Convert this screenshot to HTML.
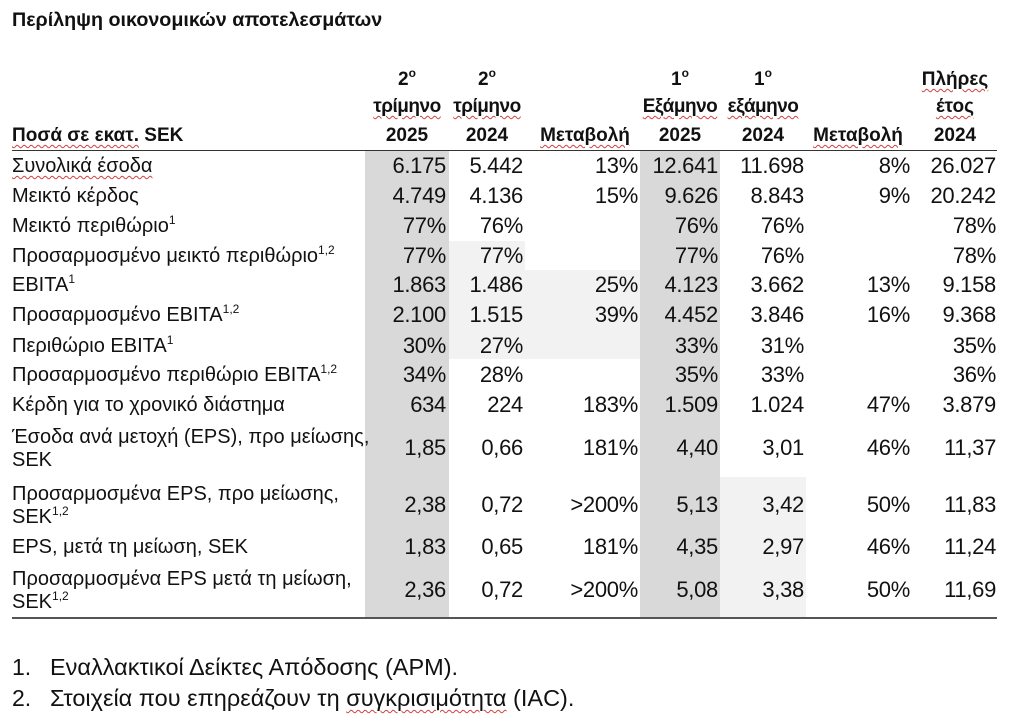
<!DOCTYPE html>
<html><head><meta charset="utf-8"><style>
body{margin:0;width:1024px;height:724px;background:#fff;position:relative;overflow:hidden;font-family:"Liberation Sans","DejaVu Sans",sans-serif;color:#111;font-size:20px}
.a{position:absolute;white-space:nowrap;line-height:20px}
.r{text-align:right;font-size:22px;letter-spacing:-0.3px}
.b{font-weight:bold;font-size:19px}
.g{position:absolute;background:#d9d9d9}
.l{position:absolute;background:#f2f2f2}
sup{font-size:12px;line-height:0;vertical-align:8px}
.w{text-decoration:underline wavy #d04040;text-decoration-thickness:1px;text-underline-offset:3px}
</style></head><body>
<div class="g" style="left:365px;top:151px;width:84px;height:466px"></div>
<div class="g" style="left:640px;top:151px;width:80px;height:466px"></div>
<div class="l" style="left:449px;top:241px;width:76px;height:29px"></div>
<div class="l" style="left:449px;top:270px;width:191px;height:89px"></div>
<div class="l" style="left:720px;top:477px;width:86px;height:140px"></div>
<div style="position:absolute;left:12px;top:150px;width:985px;height:1px;background:#333"></div>
<div style="position:absolute;left:12px;top:617px;width:985px;height:2px;background:#555"></div>

<div class="a b" style="left:12px;top:10px;font-size:19.7px">Περίληψη οικονομικών αποτελεσμάτων</div>

<div class="a b" style="left:365px;top:70px;width:84px;text-align:center">2<sup>ο</sup></div>
<div class="a b" style="left:449px;top:70px;width:76px;text-align:center">2<sup>ο</sup></div>
<div class="a b" style="left:640px;top:70px;width:80px;text-align:center">1<sup>ο</sup></div>
<div class="a b" style="left:720px;top:70px;width:86px;text-align:center">1<sup>ο</sup></div>
<div class="a b" style="left:910px;top:70px;width:90px;text-align:center"><span class="w">Πλήρες</span></div>
<div class="a b" style="left:360px;top:97px;width:94px;text-align:center;letter-spacing:-0.5px"><span class="w">τρίμηνο</span></div>
<div class="a b" style="left:444px;top:97px;width:86px;text-align:center;letter-spacing:-0.5px"><span class="w">τρίμηνο</span></div>
<div class="a b" style="left:630px;top:97px;width:100px;text-align:center;letter-spacing:-0.5px"><span class="w">Εξάμηνο</span></div>
<div class="a b" style="left:713px;top:97px;width:100px;text-align:center;letter-spacing:-0.5px"><span class="w">εξάμηνο</span></div>
<div class="a b" style="left:910px;top:97px;width:90px;text-align:center"><span class="w">έτος</span></div>
<div class="a b" style="left:12px;top:126px"><span class="w">Ποσά σε εκατ.</span> SEK</div>
<div class="a b" style="left:365px;top:126px;width:84px;text-align:center">2025</div>
<div class="a b" style="left:449px;top:126px;width:76px;text-align:center">2024</div>
<div class="a b" style="left:525px;top:126px;width:120px;text-align:center"><span class="w">Μεταβολή</span></div>
<div class="a b" style="left:640px;top:126px;width:80px;text-align:center">2025</div>
<div class="a b" style="left:720px;top:126px;width:86px;text-align:center">2024</div>
<div class="a b" style="left:806px;top:126px;width:104px;text-align:center"><span class="w">Μεταβολή</span></div>
<div class="a b" style="left:910px;top:126px;width:90px;text-align:center">2024</div>

<div id="rows"></div>
<script>
var R=[
[166,'<span class="w">Συνολικά έσοδα</span>','6.175','5.442','13%','12.641','11.698','8%','26.027'],
[196,'Μεικτό κέρδος','4.749','4.136','15%','9.626','8.843','9%','20.242'],
[226,'Μεικτό περιθώριο<sup>1</sup>','77%','76%','','76%','76%','','78%'],
[256,'Προσαρμοσμένο μεικτό περιθώριο<sup>1,2</sup>','77%','77%','','77%','76%','','78%'],
[285,'EBITA<sup>1</sup>','1.863','1.486','25%','4.123','3.662','13%','9.158'],
[315,'Προσαρμοσμένο EBITA<sup>1,2</sup>','2.100','1.515','39%','4.452','3.846','16%','9.368'],
[346,'Περιθώριο EBITA<sup>1</sup>','30%','27%','','33%','31%','','35%'],
[375,'Προσαρμοσμένο περιθώριο EBITA<sup>1,2</sup>','34%','28%','','35%','33%','','36%'],
[405,'Κέρδη για το χρονικό διάστημα','634','224','183%','1.509','1.024','47%','3.879'],
[448,'Έσοδα ανά μετοχή (EPS), προ μείωσης,<br>SEK','1,85','0,66','181%','4,40','3,01','46%','11,37'],
[505,'Προσαρμοσμένα EPS, προ μείωσης,<br>SEK<sup>1,2</sup>','2,38','0,72','>200%','5,13','3,42','50%','11,83'],
[547,'EPS, μετά τη μείωση, SEK','1,83','0,65','181%','4,35','2,97','46%','11,24'],
[590,'Προσαρμοσμένα EPS μετά τη μείωση,<br>SEK<sup>1,2</sup>','2,36','0,72','>200%','5,08','3,38','50%','11,69']];
var X=[446,523,638,718,804,910,996],h='';
R.forEach(function(r){var y=r[0];var two=r[1].indexOf('<br>')>=0;
h+='<div class="a" style="left:12px;top:'+(two?y-22:y-10)+'px;line-height:'+(two?'23px':'20px')+'">'+r[1]+'</div>';
for(var i=0;i<7;i++)h+='<div class="a r" style="left:'+(X[i]-120)+'px;width:120px;top:'+(y-10)+'px">'+r[i+2].replace('>','&gt;')+'</div>';});
document.getElementById('rows').innerHTML=h;
</script>

<div class="a" style="left:12px;top:657px;font-size:23px">1.</div>
<div class="a" style="left:50px;top:657px;font-size:23.5px">Εναλλακτικοί Δείκτες Απόδοσης (APM).</div>
<div class="a" style="left:12px;top:688px;font-size:23px">2.</div>
<div class="a" style="left:50px;top:688px;font-size:23.5px">Στοιχεία που επηρεάζουν τη <span class="w">συγκρισιμότητα</span> (IAC).</div>
</body></html>
